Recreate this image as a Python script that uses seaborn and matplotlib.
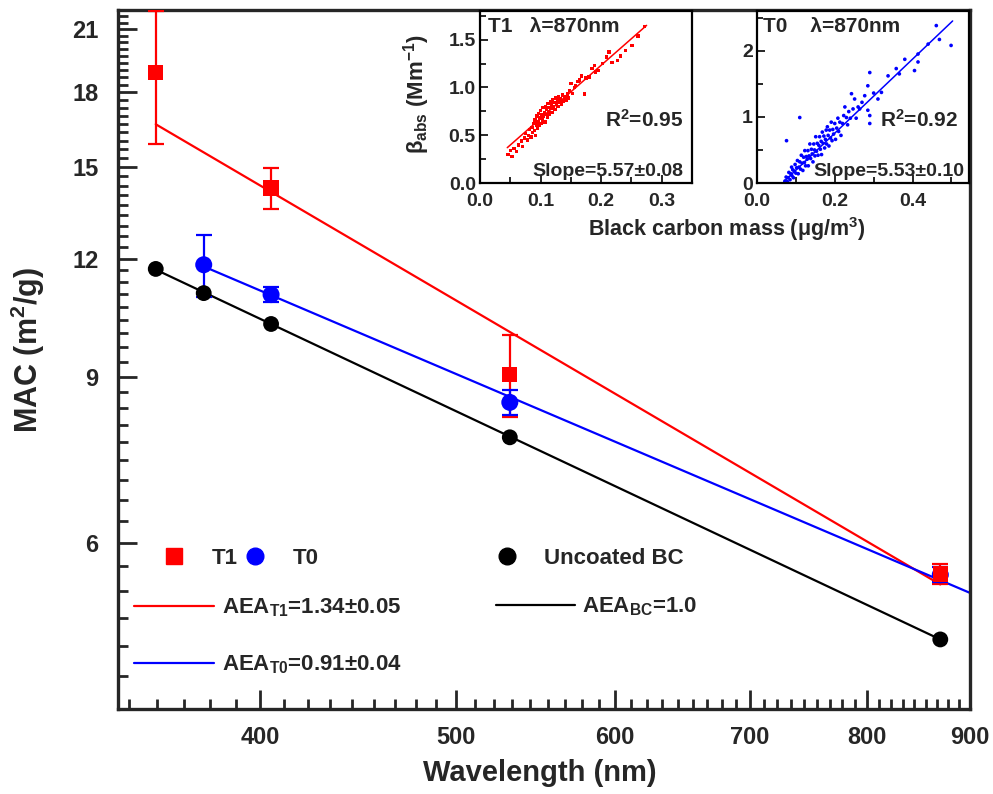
import matplotlib
matplotlib.use('Agg')
import matplotlib.pyplot as plt
import seaborn as sns
from matplotlib.ticker import FixedLocator, FixedFormatter, MultipleLocator, NullFormatter
from matplotlib.lines import Line2D

# main panel: MAC vs wavelength
wl_T1 = [355, 405, 532, 870]
mac_T1 = [18.9, 14.25, 9.05, 5.56]
err_T1 = [3.05, 0.7, 0.9, 0.14]

wl_T0 = [375, 405, 532, 870]
mac_T0 = [11.82, 10.99, 8.45, 5.55]
err_T0 = [0.9, 0.2, 0.25, 0.1]

wl_BC = [355, 375, 405, 532, 870]
mac_BC = [11.7, 11.03, 10.23, 7.76, 4.74]

# power-law fit lines (end points)
fit_T1_wl = [355, 870]
fit_T1 = [16.65, 5.42]
fit_T0_wl = [375, 900]
fit_T0 = [11.77, 5.31]
fit_BC_wl = [355, 870]
fit_BC = [11.68, 4.74]

x_ticks = [400, 500, 600, 700, 800, 900]
y_ticks = [6, 9, 12, 15, 18, 21]

# inset T1: absorption vs BC mass at 870 nm
bc_T1 = [0.046, 0.050, 0.053, 0.056, 0.060, 0.064, 0.068, 0.070, 0.073, 0.075,
         0.078, 0.080, 0.082, 0.084, 0.086, 0.087, 0.089, 0.090, 0.091, 0.092,
         0.093, 0.094, 0.095, 0.096, 0.097, 0.098, 0.099, 0.100, 0.101, 0.102,
         0.103, 0.104, 0.105, 0.106, 0.107, 0.108, 0.109, 0.110, 0.111, 0.112,
         0.113, 0.114, 0.115, 0.116, 0.117, 0.118, 0.119, 0.120, 0.121, 0.122,
         0.124, 0.125, 0.126, 0.128, 0.129, 0.130, 0.132, 0.133, 0.135, 0.136,
         0.138, 0.140, 0.142, 0.144, 0.146, 0.148, 0.150, 0.153, 0.156, 0.158,
         0.162, 0.164, 0.168, 0.172, 0.175, 0.180, 0.185, 0.189, 0.191, 0.196,
         0.202, 0.209, 0.213, 0.218, 0.227, 0.232, 0.240, 0.251, 0.261, 0.272]
babs_T1 = [0.30, 0.34, 0.28, 0.36, 0.33, 0.40, 0.44, 0.38, 0.47, 0.52,
           0.45, 0.50, 0.56, 0.48, 0.58, 0.53, 0.62, 0.55, 0.66, 0.50,
           0.60, 0.70, 0.57, 0.64, 0.73, 0.60, 0.68, 0.76, 0.62, 0.71,
           0.66, 0.79, 0.70, 0.74, 0.64, 0.80, 0.72, 0.77, 0.69, 0.83,
           0.75, 0.79, 0.72, 0.85, 0.78, 0.81, 0.74, 0.87, 0.80, 0.84,
           0.77, 0.89, 0.82, 0.86, 0.80, 0.90, 0.84, 0.88, 0.82, 0.92,
           0.86, 0.90, 0.87, 0.93, 0.89, 0.97, 1.04, 0.94, 1.00, 1.02,
           1.06, 1.08, 1.12, 0.93, 1.10, 1.11, 1.20, 1.23, 1.16, 1.18,
           1.25, 1.32, 1.37, 1.26, 1.28, 1.33, 1.39, 1.44, 1.54, 1.64]
line_T1_x = [0.045, 0.275]
line_T1_y = [0.37, 1.65]

# inset T0
bc_T0 = [0.072, 0.075, 0.078, 0.080, 0.082, 0.085, 0.087, 0.089, 0.090, 0.092,
         0.094, 0.096, 0.098, 0.100, 0.102, 0.104, 0.106, 0.108, 0.110, 0.110,
         0.076, 0.112, 0.114, 0.116, 0.118, 0.120, 0.122, 0.123, 0.125, 0.127,
         0.129, 0.131, 0.132, 0.134, 0.136, 0.138, 0.140, 0.142, 0.144, 0.146,
         0.148, 0.149, 0.151, 0.153, 0.155, 0.157, 0.159, 0.161, 0.163, 0.165,
         0.166, 0.168, 0.170, 0.172, 0.174, 0.176, 0.178, 0.179, 0.181, 0.183,
         0.185, 0.187, 0.189, 0.191, 0.193, 0.195, 0.197, 0.200, 0.202, 0.205,
         0.208, 0.210, 0.213, 0.216, 0.220, 0.223, 0.226, 0.230, 0.233, 0.236,
         0.240, 0.243, 0.247, 0.251, 0.255, 0.260, 0.264, 0.270, 0.277, 0.285,
         0.285, 0.290, 0.290, 0.290, 0.300, 0.311, 0.320, 0.337, 0.358, 0.366,
         0.380, 0.405, 0.414, 0.414, 0.440, 0.461, 0.469, 0.499]
babs_T0 = [0.03, 0.09, 0.02, 0.08, 0.16, 0.05, 0.14, 0.24, 0.11, 0.20,
           0.08, 0.18, 0.28, 0.15, 0.23, 0.34, 0.14, 0.24, 0.32, 0.99,
           0.64, 0.21, 0.42, 0.30, 0.19, 0.39, 0.31, 0.49, 0.26, 0.40,
           0.36, 0.49, 0.26, 0.41, 0.59, 0.37, 0.51, 0.44, 0.32, 0.59,
           0.50, 0.41, 0.70, 0.48, 0.60, 0.42, 0.57, 0.70, 0.51, 0.63,
           0.43, 0.77, 0.60, 0.71, 0.53, 0.66, 0.80, 0.59, 0.85, 0.72,
           0.56, 0.80, 0.68, 0.92, 0.64, 0.81, 0.74, 0.90, 0.66, 0.83,
           0.98, 0.78, 0.92, 0.72, 0.90, 1.02, 1.15, 0.99, 0.88, 1.08,
           0.98, 1.35, 1.12, 1.27, 0.98, 1.15, 1.12, 1.22, 1.32, 1.47,
           1.10, 1.02, 0.90, 1.67, 1.36, 1.27, 1.37, 1.62, 1.73, 1.65,
           1.87, 1.70, 1.95, 1.83, 2.10, 2.38, 2.17, 2.08]
line_T0_x = [0.069, 0.503]
line_T0_y = [0.02, 2.45]

sns.set_style('ticks')
plt.rcParams['font.family'] = ['Liberation Sans', 'DejaVu Sans']
plt.rcParams['font.weight'] = 'bold'
plt.rcParams['axes.labelweight'] = 'bold'
plt.rcParams['mathtext.fontset'] = 'custom'
plt.rcParams['mathtext.rm'] = 'Liberation Sans:bold'
plt.rcParams['mathtext.it'] = 'Liberation Sans:bold'
plt.rcParams['mathtext.bf'] = 'Liberation Sans:bold'
plt.rcParams['mathtext.default'] = 'rm'

fig = plt.figure(figsize=(9.93, 7.94), dpi=100)
ax = fig.add_axes([0.1188, 0.107, 0.858, 0.8804])

# fit lines
sns.lineplot(x=fit_T1_wl, y=fit_T1, color='red', lw=1.6, ax=ax, estimator=None, sort=False)
sns.lineplot(x=fit_T0_wl, y=fit_T0, color='blue', lw=1.6, ax=ax, estimator=None, sort=False)
sns.lineplot(x=fit_BC_wl, y=fit_BC, color='black', lw=1.6, ax=ax, estimator=None, sort=False)

# error bars + markers
ax.errorbar(wl_T1, mac_T1, yerr=err_T1, fmt='none', ecolor='red', elinewidth=1.6, capsize=6, capthick=1.6, zorder=3)
ax.errorbar(wl_T0, mac_T0, yerr=err_T0, fmt='none', ecolor='blue', elinewidth=1.6, capsize=6, capthick=1.6, zorder=3)
sns.scatterplot(x=wl_BC, y=mac_BC, marker='o', s=130, color='black', edgecolor='none', ax=ax, zorder=4)
sns.scatterplot(x=wl_T0, y=mac_T0, marker='o', s=150, color='blue', edgecolor='none', ax=ax, zorder=4)
sns.scatterplot(x=wl_T1, y=mac_T1, marker='s', s=120, color='red', edgecolor='none', ax=ax, zorder=5)

ax.set_xscale('log')
ax.set_yscale('log')
ax.set_xlim(340, 900)
ax.set_ylim(4, 22)
ax.xaxis.set_major_locator(FixedLocator(x_ticks))
ax.xaxis.set_major_formatter(FixedFormatter([str(v) for v in x_ticks]))
ax.xaxis.set_minor_locator(MultipleLocator(100 / 9))
ax.xaxis.set_minor_formatter(NullFormatter())
ax.yaxis.set_major_locator(FixedLocator(y_ticks))
ax.yaxis.set_major_formatter(FixedFormatter([str(v) for v in y_ticks]))
ax.yaxis.set_minor_locator(MultipleLocator(1 / 3))
ax.yaxis.set_minor_formatter(NullFormatter())
ax.tick_params(which='both', direction='in', top=False, right=False, width=2, labelsize=17)
ax.tick_params(which='major', length=14)
ax.tick_params(which='minor', length=7)
ax.tick_params(axis='x', pad=12)
ax.tick_params(axis='y', pad=14)
for sp in ax.spines.values():
    sp.set_linewidth(2.4)
    sp.set_visible(True)

ax.set_xlabel('Wavelength (nm)', fontsize=21)
ax.set_ylabel('MAC (m$^2$/g)', fontsize=22)
ax.xaxis.set_label_coords(0.495, -0.072)
ax.yaxis.set_label_coords(-0.083, 0.514)

# legends
lfs = 16
h_t1 = Line2D([], [], ls='none', marker='s', ms=11, color='red')
h_t0 = Line2D([], [], ls='none', marker='o', ms=12, color='blue')
h_bc = Line2D([], [], ls='none', marker='o', ms=12, color='black')
h_l1 = Line2D([], [], color='red', lw=1.6)
h_l0 = Line2D([], [], color='blue', lw=1.6)
h_lbc = Line2D([], [], color='black', lw=1.6)

legA = ax.legend([h_t1, h_t0], ['T1', 'T0'], ncol=2, loc='center left', bbox_to_anchor=(0.050, 0.216),
                 frameon=False, fontsize=lfs, handlelength=1.2, handletextpad=1.1, columnspacing=0.2, borderpad=0, borderaxespad=0)
ax.add_artist(legA)
legB = ax.legend([h_bc], ['Uncoated BC'], loc='center left', bbox_to_anchor=(0.4406, 0.216),
                 frameon=False, fontsize=lfs, handlelength=1.2, handletextpad=1.1, borderpad=0, borderaxespad=0)
ax.add_artist(legB)
legC = ax.legend([h_l1, h_l0], ['AEA$_{T1}$=1.34±0.05', 'AEA$_{T0}$=0.91±0.04'], loc='center left',
                 bbox_to_anchor=(0.0188, 0.104), frameon=False, fontsize=lfs, handlelength=3.6,
                 handletextpad=0.35, labelspacing=1.55, borderpad=0, borderaxespad=0)
ax.add_artist(legC)
ax.legend([h_lbc], ['AEA$_{BC}$=1.0'], loc='center left', bbox_to_anchor=(0.4437, 0.146),
          frameon=False, fontsize=lfs, handlelength=3.56, handletextpad=0.3, borderpad=0, borderaxespad=0)

# insets
def style_inset(a):
    for sp in a.spines.values():
        sp.set_linewidth(1.6)
        sp.set_color('black')
    a.tick_params(which='both', direction='in', top=False, right=False, width=1.4, labelsize=14)
    a.tick_params(axis='x', pad=7)
    a.tick_params(axis='y', pad=3)
    a.tick_params(which='major', length=6)
    a.tick_params(which='minor', length=4)

ax1 = fig.add_axes([0.4834, 0.7695, 0.2135, 0.2166])
sns.scatterplot(x=bc_T1, y=babs_T1, marker='s', s=6, color='red', edgecolor='none', ax=ax1)
sns.lineplot(x=line_T1_x, y=line_T1_y, color='red', lw=1.1, ax=ax1, estimator=None, sort=False)
ax1.set_xlim(0, 0.35)
ax1.set_ylim(0, 1.8)
ax1.xaxis.set_major_locator(FixedLocator([0.0, 0.1, 0.2, 0.3]))
ax1.xaxis.set_minor_locator(MultipleLocator(0.05))
ax1.yaxis.set_major_locator(FixedLocator([0.0, 0.5, 1.0, 1.5]))
ax1.yaxis.set_minor_locator(MultipleLocator(0.25))
ax1.xaxis.set_major_formatter(FixedFormatter(['0.0', '0.1', '0.2', '0.3']))
ax1.yaxis.set_major_formatter(FixedFormatter(['0.0', '0.5', '1.0', '1.5']))
style_inset(ax1)
ax1.set_ylabel('β$_{abs}$ (Mm$^{-1}$)', fontsize=16)
ax1.yaxis.set_label_coords(-0.226, 0.517)
ax1.text(0.04, 0.965, 'T1   λ=870nm', transform=ax1.transAxes, ha='left', va='top', fontsize=15)
ax1.text(0.958, 0.366, 'R$^2$=0.95', transform=ax1.transAxes, ha='right', va='center', fontsize=15)
ax1.text(0.957, 0.02, 'Slope=5.57±0.08', transform=ax1.transAxes, ha='right', va='bottom', fontsize=14)

ax2 = fig.add_axes([0.7623, 0.7695, 0.2135, 0.2166])
sns.scatterplot(x=bc_T0, y=babs_T0, marker='o', s=7, color='blue', edgecolor='none', ax=ax2)
sns.lineplot(x=line_T0_x, y=line_T0_y, color='blue', lw=1.1, ax=ax2, estimator=None, sort=False)
ax2.set_xlim(0, 0.545)
ax2.set_ylim(0, 2.6)
ax2.xaxis.set_major_locator(FixedLocator([0.0, 0.2, 0.4]))
ax2.xaxis.set_minor_locator(MultipleLocator(0.1))
ax2.yaxis.set_major_locator(FixedLocator([0, 1, 2]))
ax2.yaxis.set_minor_locator(MultipleLocator(0.5))
ax2.xaxis.set_major_formatter(FixedFormatter(['0.0', '0.2', '0.4']))
ax2.yaxis.set_major_formatter(FixedFormatter(['0', '1', '2']))
style_inset(ax2)
ax2.text(0.03, 0.965, 'T0    λ=870nm', transform=ax2.transAxes, ha='left', va='top', fontsize=15)
ax2.text(0.948, 0.366, 'R$^2$=0.92', transform=ax2.transAxes, ha='right', va='center', fontsize=15)
ax2.text(0.98, 0.02, 'Slope=5.53±0.10', transform=ax2.transAxes, ha='right', va='bottom', fontsize=14)

fig.text(727 / 993, 1 - 236 / 794, 'Black carbon mass (μg/m$^3$)', ha='center', va='baseline', fontsize=15.5)

fig.savefig('out.png', dpi=100)
